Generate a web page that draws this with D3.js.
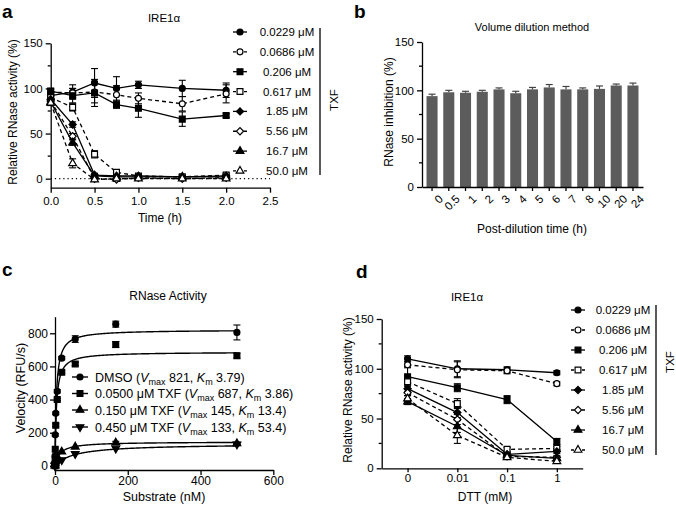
<!DOCTYPE html>
<html><head><meta charset="utf-8">
<script src="https://cdn.jsdelivr.net/npm/d3@7"></script>
<style>body{margin:0;background:#fff}svg{display:block;font-family:"Liberation Sans",Arial,sans-serif}</style>
</head><body>
<svg id="chart" width="676" height="505"></svg>
<script>
// ---------- DATA ----------
// Panel a
const timeA = [0, 0.25, 0.5, 0.75, 1.0, 1.5, 2.0];
const concLabels = ["0.0229 μM","0.0686 μM","0.206 μM","0.617 μM","1.85 μM","5.56 μM","16.7 μM","50.0 μM"];
const a_0229 = [92, 96, 106, 100, 104, 100, 98];
const a_0686 = [96, 95, 96, 93, 89, 83, 94];
const a_206  = [97, 92, 95, 82, 78, 66, 70];
const a_617  = [90, 79, 27, 7, 3, 2, 4];
const a_185  = [88, 60, 4, 3, 3, 2, 3];
const a_556  = [86, 47, 0, -1, 1, 0, 1];
const a_167  = [85, 40, 3, 2, 2, 2, 2];
const a_500  = [84, 17, -1, 0, 0, 0, 0];
const aErr_0229 = [3, 8, 16, 13, 4, 9, 8];
const aErr_0686 = [3, 5, 12, 10, 6, 8, 10];
const aErr_206  = [3, 8, 15, 4, 10, 8, 2];
const aErr_617  = [3, 4, 4, 2, 2, 2, 2];
const aErr_185  = [3, 3, 2, 2, 2, 2, 2];
const aErr_556  = [3, 3, 2, 2, 2, 2, 2];
const aErr_167  = [3, 3, 2, 2, 2, 2, 2];
const aErr_500  = [3, 5, 2, 2, 2, 2, 2];
const aXTicks = [0, 0.5, 1.0, 1.5, 2.0, 2.5];
const pctTicks = [0, 50, 100, 150];

// Panel b
const bCats = ["0","0.5","1","2","3","4","5","6","7","8","10","20","24"];
const bVals = [94, 98, 97.5, 98.5, 101, 97, 101, 103, 101, 101, 101.5, 105, 105];
const bErr  = [2, 2, 1.5, 1.5, 1.5, 2, 2, 3, 3, 1.5, 3, 1.5, 2.5];

// Panel c
const substrate = [0, 0.229, 0.686, 2.06, 6.17, 18.5, 55.6, 167, 500];
const c_dmso = [0, 60, 187, 317, 450, 650, 765, 855, 805];
const c_005  = [0, 40, 100, 245, 400, 565, 615, 732, 665];
const c_015  = [0, 5, 15, 35, 55, 85, 115, 140, 135];
const c_045  = [0, 2, 5, 10, 18, 35, 72, 105, 130];
const cErr_dmso = [0, 5, 8, 8, 10, 10, 20, 18, 45];
const cErr_005  = [0, 5, 5, 8, 8, 8, 10, 18, 15];
const cErr_015  = [0, 2, 2, 3, 3, 5, 5, 8, 8];
const cErr_045  = [0, 2, 2, 3, 3, 4, 5, 6, 8];
const cNames = ["DMSO", "0.0500 μM TXF", "0.150 μM TXF", "0.450 μM TXF"];
const cVmax = [821, 687, 145, 133];
const cKm = [3.79, 3.86, 13.4, 53.4];
const cXTicks = [0, 200, 400, 600];
const cYTicks = [0, 200, 400, 600, 800];

// Panel d
const dttCats = ["0", "0.01", "0.1", "1"];
const d_0229 = [110, 100, 99, 96];
const d_0686 = [104, 99, 98, 85];
const d_206  = [92, 81, 69, 27];
const d_617  = [87, 65, 19, 20];
const d_185  = [80, 56, 14, 17];
const d_556  = [76, 49, 12, 11];
const d_167  = [67, 42, 13, 10];
const d_500  = [70, 33, 11, 7];
const dErr_0229 = [3, 8, 3, 2];
const dErr_0686 = [3, 8, 3, 2];
const dErr_206  = [10, 4, 4, 3];
const dErr_617  = [3, 5, 2, 2];
const dErr_185  = [3, 5, 2, 2];
const dErr_556  = [3, 5, 2, 2];
const dErr_167  = [3, 6, 2, 2];
const dErr_500  = [3, 8, 2, 2];

// ---------- STYLE ----------
const FONT = '"Liberation Sans", Arial, sans-serif';
const seriesStyle = [
  {shape:"circle", filled:true, dash:false},
  {shape:"circle", filled:false, dash:true},
  {shape:"square", filled:true, dash:false},
  {shape:"square", filled:false, dash:true},
  {shape:"diamond", filled:true, dash:false},
  {shape:"diamond", filled:false, dash:true},
  {shape:"triangle", filled:true, dash:false},
  {shape:"triangle", filled:false, dash:true}
];
const symSize = {circle: 28, square: 34, diamond: 26, triangle: 26, triangleDown: 26};

const svg = d3.select("#chart");

function marker(g, shape, filled, x, y) {
  const type = shape === "circle" ? d3.symbolCircle :
               (shape === "square" || shape === "diamond") ? d3.symbolSquare : d3.symbolTriangle;
  let tr = `translate(${x},${y})`;
  if (shape === "triangleDown") tr += " rotate(180)";
  if (shape === "diamond") tr += " rotate(45)";
  g.append("path")
    .attr("d", d3.symbol().type(type).size(symSize[shape])())
    .attr("transform", tr)
    .attr("fill", filled ? "#000" : "#fff")
    .attr("stroke", "#000").attr("stroke-width", 1.2);
}

function errBar(g, x, y1, y2, cap) {
  g.append("line").attr("x1", x).attr("x2", x).attr("y1", y1).attr("y2", y2)
    .attr("stroke", "#000").attr("stroke-width", 1.1);
  [y1, y2].forEach(yy => g.append("line").attr("x1", x - cap).attr("x2", x + cap)
    .attr("y1", yy).attr("y2", yy).attr("stroke", "#000").attr("stroke-width", 1.1));
}

function styleAxis(g, fs) {
  g.attr("font-family", FONT).attr("font-size", fs);
  g.selectAll("path,line").attr("stroke", "#000").attr("stroke-width", 1.3);
  g.selectAll("text").attr("fill", "#000");
}

function text(x, y, str, fs, opts = {}) {
  const t = svg.append("text").attr("x", x).attr("y", y).text(str)
    .attr("font-family", FONT).attr("font-size", fs).attr("fill", "#000")
    .attr("text-anchor", opts.anchor || "middle");
  if (opts.weight) t.attr("font-weight", opts.weight);
  if (opts.rotate) t.attr("transform", `rotate(${opts.rotate},${x},${y})`);
  return t;
}

function minorTicksY(scale, x, vals, len) {
  vals.forEach(v => svg.append("line").attr("x1", x - len).attr("x2", x)
    .attr("y1", scale(v)).attr("y2", scale(v)).attr("stroke", "#000").attr("stroke-width", 1.3));
}

function legendTXF(x0, y0, dy, textX, barX, barY1, barY2, txfX, txfY) {
  const g = svg.append("g");
  concLabels.forEach((lab, i) => {
    const st = seriesStyle[i];
    const y = y0 + i * dy;
    g.append("line").attr("x1", x0 - 7).attr("x2", x0 + 7).attr("y1", y).attr("y2", y)
      .attr("stroke", "#000").attr("stroke-width", 1.3).attr("stroke-dasharray", st.dash ? "3,2.5" : null);
    marker(g, st.shape, st.filled, x0, y);
    text(textX, y + 4, lab, 11.5);
  });
  svg.append("line").attr("x1", barX).attr("x2", barX).attr("y1", barY1).attr("y2", barY2)
    .attr("stroke", "#000").attr("stroke-width", 1.3);
  text(txfX, txfY, "TXF", 11.5, {rotate: -90});
}

function drawLineSeries(xs, seriesVals, seriesErr, xScale, yScale) {
  const gl = svg.append("g"), ge = svg.append("g"), gm = svg.append("g");
  const line = d3.line().x((d, i) => xScale(xs[i])).y(d => yScale(d));
  seriesVals.forEach((vals, k) => {
    const st = seriesStyle[k];
    gl.append("path").attr("d", line(vals)).attr("fill", "none").attr("stroke", "#000")
      .attr("stroke-width", 1.3).attr("stroke-dasharray", st.dash ? "4,3" : null);
    vals.forEach((v, i) => {
      const e = seriesErr[k][i];
      if (e > 0) errBar(ge, xScale(xs[i]), yScale(v - e), yScale(v + e), 3.5);
    });
  });
  seriesVals.forEach((vals, k) => {
    const st = seriesStyle[k];
    vals.forEach((v, i) => marker(gm, st.shape, st.filled, xScale(xs[i]), yScale(v)));
  });
}

// ---------- PANEL A ----------
{
  const x = d3.scaleLinear().domain([0, 2.5]).range([50.7, 270]);
  const y = d3.scaleLinear().domain([-10, 150]).range([187.7, 43.3]);
  const gx = svg.append("g").attr("transform", "translate(0,187.7)")
    .call(d3.axisBottom(x).tickValues(aXTicks).tickFormat(d3.format(".1f")).tickSize(5).tickSizeOuter(0).tickPadding(4));
  styleAxis(gx, 11.5);
  const gy = svg.append("g").attr("transform", "translate(50.7,0)")
    .call(d3.axisLeft(y).tickValues(pctTicks).tickSize(5).tickSizeOuter(0).tickPadding(3));
  styleAxis(gy, 11.5);
  minorTicksY(y, 50.7, [25, 75, 125], 3);
  svg.append("line").attr("x1", x(0)).attr("x2", x(2.5)).attr("y1", y(0)).attr("y2", y(0))
    .attr("stroke", "#000").attr("stroke-width", 1.2).attr("stroke-dasharray", "1.2,3");
  drawLineSeries(timeA, [a_0229, a_0686, a_206, a_617, a_185, a_556, a_167, a_500],
    [aErr_0229, aErr_0686, aErr_206, aErr_617, aErr_185, aErr_556, aErr_167, aErr_500], x, y);
  text(164, 22, "IRE1α", 11.5);
  text(160, 222, "Time (h)", 12);
  text(17, 112, "Relative RNase activity (%)", 12, {rotate: -90});
  text(2, 18, "a", 19, {anchor: "start", weight: "bold"});
  legendTXF(240, 32, 19.85, 287, 320, 28, 175, 338, 100);
}

// ---------- PANEL B ----------
{
  const x = d3.scaleBand().domain(bCats).range([422, 643]).paddingInner(0.34).paddingOuter(0.27);
  const y = d3.scaleLinear().domain([0, 150]).range([187, 42]);
  const g = svg.append("g");
  bCats.forEach((c, i) => {
    g.append("rect").attr("x", x(c)).attr("width", x.bandwidth())
      .attr("y", y(bVals[i])).attr("height", y(0) - y(bVals[i])).attr("fill", "#5c5c5c");
    const cx = x(c) + x.bandwidth() / 2;
    g.append("line").attr("x1", cx).attr("x2", cx).attr("y1", y(bVals[i])).attr("y2", y(bVals[i] + bErr[i]))
      .attr("stroke", "#444").attr("stroke-width", 1.2);
    g.append("line").attr("x1", cx - 3.5).attr("x2", cx + 3.5).attr("y1", y(bVals[i] + bErr[i])).attr("y2", y(bVals[i] + bErr[i]))
      .attr("stroke", "#444").attr("stroke-width", 1.2);
  });
  const gx = svg.append("g").attr("transform", "translate(0,187)")
    .call(d3.axisBottom(x).tickSize(4).tickSizeOuter(0).tickPadding(3));
  styleAxis(gx, 11.5);
  gx.selectAll(".tick text").attr("text-anchor", "end").attr("dy", "0.35em")
    .attr("transform", "translate(4,5) rotate(-45)");
  const gy = svg.append("g").attr("transform", "translate(422,0)")
    .call(d3.axisLeft(y).tickValues(pctTicks).tickSize(5).tickSizeOuter(0).tickPadding(3));
  styleAxis(gy, 11.5);
  minorTicksY(y, 422, [25, 75, 125], 3);
  text(532, 31, "Volume dilution method", 11);
  text(532, 233, "Post-dilution time (h)", 12);
  text(393, 112, "RNase inhibition (%)", 12, {rotate: -90});
  text(354, 18, "b", 19, {anchor: "start", weight: "bold"});
}

// ---------- PANEL C ----------
{
  const x = d3.scaleLinear().domain([0, 600]).range([55, 273.3]);
  const y = d3.scaleLinear().domain([-25, 900]).range([470, 316.7]);
  const gx = svg.append("g").attr("transform", "translate(0,470)")
    .call(d3.axisBottom(x).tickValues(cXTicks).tickSize(5).tickSizeOuter(0).tickPadding(1));
  styleAxis(gx, 12);
  const gy = svg.append("g").attr("transform", "translate(55,0)")
    .call(d3.axisLeft(y).tickValues(cYTicks).tickSize(5).tickSizeOuter(0).tickPadding(2));
  styleAxis(gy, 12);
  const cVals = [c_dmso, c_005, c_015, c_045];
  const cErrs = [cErr_dmso, cErr_005, cErr_015, cErr_045];
  const cShapes = ["circle", "square", "triangle", "triangleDown"];
  const gl = svg.append("g"), ge = svg.append("g"), gm = svg.append("g");
  const sGrid = d3.range(0, 20, 0.1).concat(d3.range(20, 500.5, 2));
  cVmax.forEach((vm, k) => {
    const km = cKm[k];
    gl.append("path").datum(sGrid)
      .attr("d", d3.line().x(s => x(s)).y(s => y(vm * s / (km + s))))
      .attr("fill", "none").attr("stroke", "#000").attr("stroke-width", 1.4);
  });
  cVals.forEach((vals, k) => {
    vals.forEach((v, i) => {
      const e = cErrs[k][i];
      if (e > 6) errBar(ge, x(substrate[i]), y(v - e), y(v + e), 3.5);
      marker(gm, cShapes[k], true, x(substrate[i]), y(v));
    });
  });
  // legend
  const lg = svg.append("g");
  const ly = [377, 393.5, 410, 427];
  cNames.forEach((nm, k) => {
    lg.append("line").attr("x1", 72).attr("x2", 88).attr("y1", ly[k]).attr("y2", ly[k])
      .attr("stroke", "#000").attr("stroke-width", 1.4);
    marker(lg, cShapes[k], true, 80, ly[k]);
    const t = lg.append("text").attr("x", 95).attr("y", ly[k] + 4.5)
      .attr("font-family", FONT).attr("font-size", 12.5).attr("fill", "#000");
    t.append("tspan").text(nm + " (");
    t.append("tspan").attr("font-style", "italic").text("V");
    t.append("tspan").attr("font-size", 9).attr("dy", 3).text("max");
    t.append("tspan").attr("dy", -3).text(" " + cVmax[k] + ", ");
    t.append("tspan").attr("font-style", "italic").text("K");
    t.append("tspan").attr("font-size", 9).attr("dy", 3).text("m");
    t.append("tspan").attr("dy", -3).text(" " + cKm[k] + ")");
  });
  text(168, 300, "RNase Activity", 12);
  text(164, 501, "Substrate (nM)", 12.5);
  text(25, 388, "Velocity (RFU/s)", 12.5, {rotate: -90});
  text(2, 276, "c", 19, {anchor: "start", weight: "bold"});
}

// ---------- PANEL D ----------
{
  const x = d3.scalePoint().domain(dttCats).range([381.7, 582.7]).padding(0.52);
  const y = d3.scaleLinear().domain([0, 150]).range([468.3, 319]);
  const gx = svg.append("g").attr("transform", "translate(0,468.3)")
    .call(d3.axisBottom(x).tickSize(4).tickSizeOuter(0).tickPadding(2));
  styleAxis(gx, 11.5);
  const gy = svg.append("g").attr("transform", "translate(381.7,0)")
    .call(d3.axisLeft(y).tickValues(pctTicks).tickSize(5).tickSizeOuter(0).tickPadding(3));
  styleAxis(gy, 11.5);
  minorTicksY(y, 381.7, [25, 75, 125], 3);
  drawLineSeries(dttCats, [d_0229, d_0686, d_206, d_617, d_185, d_556, d_167, d_500],
    [dErr_0229, dErr_0686, dErr_206, dErr_617, dErr_185, dErr_556, dErr_167, dErr_500], x, y);
  text(467, 301, "IRE1α", 11.5);
  text(485, 501, "DTT (mM)", 12);
  text(352, 390, "Relative RNase activity (%)", 12, {rotate: -90});
  text(356, 278, "d", 19, {anchor: "start", weight: "bold"});
  legendTXF(578, 310, 20, 623, 656, 305, 455, 674, 362);
}
</script>
</body></html>
